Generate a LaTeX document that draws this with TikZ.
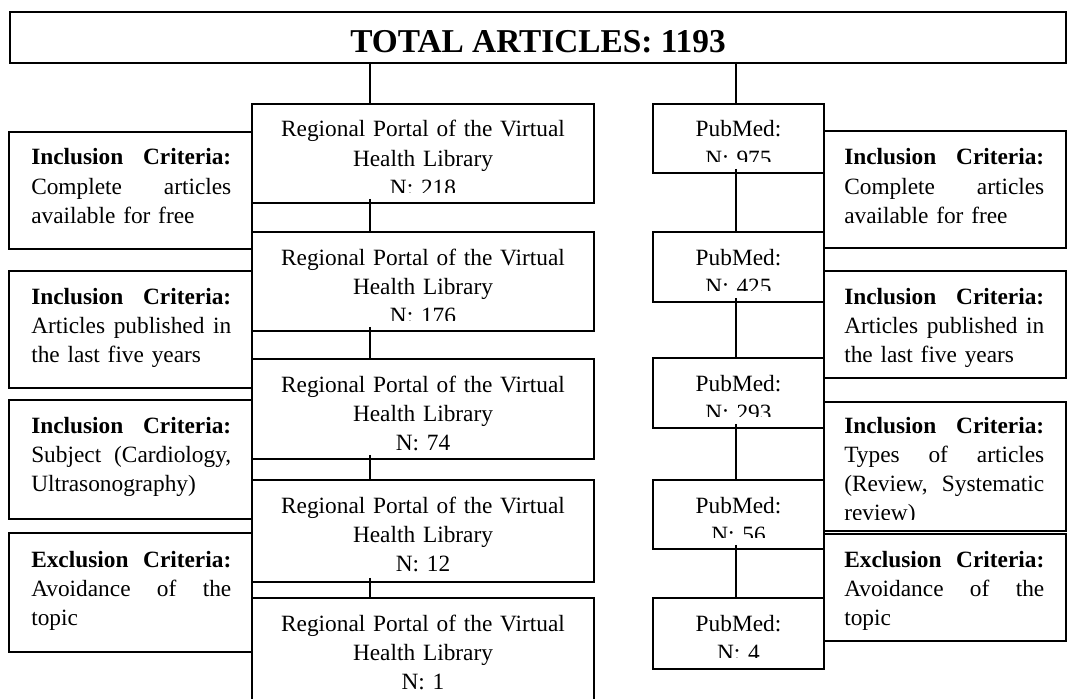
\documentclass[tikz,border=0pt]{standalone}
\usepackage{fontspec}
\setmainfont{Liberation Serif}
\usetikzlibrary{fit,calc}
\begin{document}
\begin{tikzpicture}[x=0.75pt,y=-0.75pt,
  box/.style={draw, line width=1.4pt, fill=white, inner sep=0pt},
  link/.style={line width=1.4pt},
  rtxt/.style={inner sep=0pt, text width=250pt, align=center, font=\fontsize{17.5}{21.8}\selectfont},
  ptxt/.style={inner sep=0pt, text width=120pt, align=center, font=\fontsize{17.5}{21.8}\selectfont},
  ctxt/.style={inner sep=0pt, text width=150pt, align=left, font=\fontsize{17.5}{21.9}\selectfont},
  ttl/.style={inner sep=0pt, font=\fontsize{25}{30}\selectfont\bfseries}]
\useasboundingbox (0,0) rectangle (1068,699);
\fill[white] (0,0) rectangle (1068,699);

% total
\node[box, fit={(10,12) (1066,63)}] (total) {};
\node[ttl, anchor=base] (ttltext) at (538,53) {TOTAL ARTICLES: 1193};

% left criteria boxes
\node[box, fit={(9,132) (252,249)}] (c1) {};
\node[ctxt, anchor=base west] (c1t) at (31,165) {\textbf{Inclusion}\hfill\textbf{Criteria:}\\Complete\hfill articles\\available for free};
\node[box, fit={(9,271) (252,388)}] (c2) {};
\node[ctxt, anchor=base west] (c2t) at (31,304) {\textbf{Inclusion}\hfill\textbf{Criteria:}\\Articles\hfill published\hfill in\\the last five years};
\node[box, fit={(9,400) (252,519)}] (c3) {};
\node[ctxt, anchor=base west] (c3t) at (31,433) {\textbf{Inclusion}\hfill\textbf{Criteria:}\\Subject\hfill (Cardiology,\\Ultrasonography)};
\node[box, fit={(9,533) (252,652)}] (c4) {};
\node[ctxt, anchor=base west] (c4t) at (31,567) {\textbf{Exclusion}\hfill\textbf{Criteria:}\\Avoidance\hfill of\hfill the\\topic};

% regional boxes
\foreach \n/\t/\b/\c/\v in {1/104/203/192/218, 2/232/331/320/176, 3/359/459/459/74, 4/480/582/582/12, 5/598/712/712/1}{
  \node[box, fit={(252,\t) (594,\b)}] (r\n) {};
  \begin{scope}
    \clip (252,\t) rectangle (594,\c);
    \node[rtxt, anchor=base] (r\n t) at (423,\t+33) {Regional Portal of the Virtual\\Health Library\\N: \v};
  \end{scope}
}

% pubmed boxes
\foreach \n/\t/\b/\v in {1/104/173/975, 2/232/302/425, 3/358/428/293, 4/480/549/56, 5/598/669/4}{
  \node[box, fit={(653,\t) (824,\b)}] (p\n) {};
  \begin{scope}
    \clip (653,\t) rectangle (824,\b-12);
    \node[ptxt, anchor=base] (p\n t) at (738.5,\t+33) {PubMed:\\N: \v};
  \end{scope}
}

% right criteria boxes
\node[box, fit={(824,131) (1066,248)}] (q1) {};
\node[ctxt, anchor=base west] (q1t) at (844,165) {\textbf{Inclusion}\hfill\textbf{Criteria:}\\Complete\hfill articles\\available for free};
\node[box, fit={(824,271) (1066,378)}] (q2) {};
\node[ctxt, anchor=base west] (q2t) at (844,304) {\textbf{Inclusion}\hfill\textbf{Criteria:}\\Articles\hfill published\hfill in\\the last five years};
\node[box, fit={(824,402) (1066,531)}] (q3) {};
\begin{scope}
  \clip (824,402) rectangle (1066,519);
  \node[ctxt, anchor=base west] (q3t) at (844,433) {\textbf{Inclusion}\hfill\textbf{Criteria:}\\Types\hfill of\hfill articles\\(Review,\hfill Systematic\\review)};
\end{scope}
\node[box, fit={(824,534) (1066,641)}] (q4) {};
\node[ctxt, anchor=base west] (q4t) at (844,567) {\textbf{Exclusion}\hfill\textbf{Criteria:}\\Avoidance\hfill of\hfill the\\topic};

% connectors
\coordinate (lx) at (370,0);
\coordinate (rx) at (736,0);
\draw[link] ($(total.south -| lx)+(0,-2)$) -- ($(r1.north -| lx)+(0,2)$);
\draw[link] ($(total.south -| rx)+(0,-2)$) -- ($(p1.north -| rx)+(0,2)$);
\foreach \a/\b in {1/2,2/3,3/4,4/5}{
  \draw[link] ($(r\a.south -| lx)+(0,-5)$) -- ($(r\b.north -| lx)+(0,1)$);
  \draw[link] ($(p\a.south -| rx)+(0,-5)$) -- ($(p\b.north -| rx)+(0,1)$);
}
\end{tikzpicture}
\end{document}
